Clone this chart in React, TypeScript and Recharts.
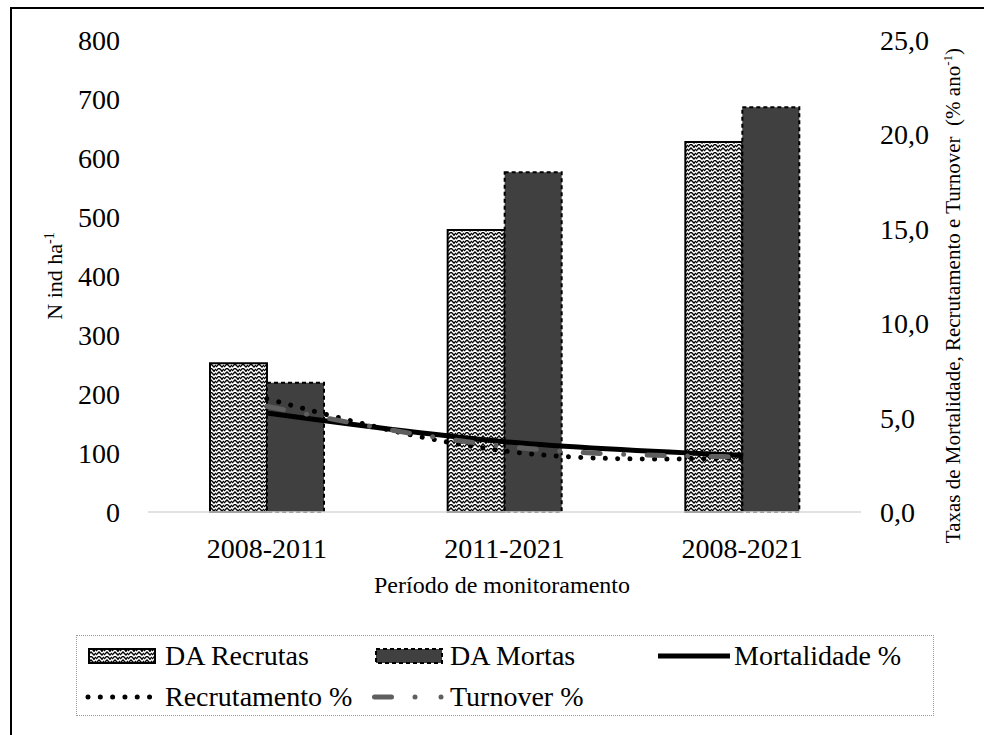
import React from "react";
import { ComposedChart, Bar, Line, XAxis, YAxis } from "recharts";

const FONT = "'Liberation Serif', 'Times New Roman', serif";

// values
const periods = ["2008-2011", "2011-2021", "2008-2021"];
const daRecrutas = [252, 478, 627];
const daMortas = [219, 576, 686];
const mortalidade = [5.24, 3.72, 3.0];
const recrutamento = [6.0, 3.23, 2.86];
const turnover = [5.6, 3.48, 2.92];

const leftTicks = [0, 100, 200, 300, 400, 500, 600, 700, 800];
const rightTicks = [0, 5, 10, 15, 20, 25];

const DOTTED = "0.01 12.3";
const DASH_DOT = "17 23.5 0.01 23.5";

const tickStyle = { fill: "#000", fontSize: 28, fontFamily: FONT };

function ZigPattern({ id }: { id: string }) {
  return (
    <pattern id={id} patternUnits="userSpaceOnUse" width={8} height={8}>
      <rect width={8} height={8} fill="#fff" />
      <path d="M0,3 L3,0 L6,3 L8,1 M0,7 L3,4 L6,7 L8,5 M6,3 L6,4" stroke="#000" strokeWidth={1.4} fill="none" />
    </pattern>
  );
}

function Swatch({ x, y, children }: { x: number; y: number; children: React.ReactNode }) {
  return (
    <div style={{ position: "absolute", left: x, top: y - 18, height: 36, display: "flex", alignItems: "center" }}>
      {children}
    </div>
  );
}

function LegendText({ x, y, text }: { x: number; y: number; text: string }) {
  return (
    <div
      style={{
        position: "absolute", left: x, top: y - 18, height: 36, lineHeight: "36px",
        whiteSpace: "nowrap", fontSize: 28, fontFamily: FONT, color: "#000",
      }}
    >
      {text}
    </div>
  );
}

export default function App() {
  const data = periods.map((p, i) => ({
    period: p,
    recrutas: daRecrutas[i],
    mortas: daMortas[i],
    mortalidade: mortalidade[i],
    recrutamento: recrutamento[i],
    turnover: turnover[i],
  }));

  return (
    <div style={{ position: "fixed", left: 0, top: 0, width: 984, height: 735, overflow: "hidden", background: "#fff" }}>
      {/* outer frame */}
      <div style={{ position: "absolute", left: 10, top: 7, width: 1100, height: 900, border: "2px solid #000" }} />

      <div style={{ position: "absolute", left: 0, top: 0 }}>
        <ComposedChart
          width={984}
          height={735}
          data={data}
          margin={{ top: 40, right: 23, bottom: 163, left: 48 }}
          barGap={0}
          barSize={57}
        >
          <defs>
            <ZigPattern id="zigFill" />
          </defs>
          <XAxis
            dataKey="period"
            interval={0}
            tickLine={false}
            axisLine={{ stroke: "#d9d9d9", strokeWidth: 1.5 }}
            tickSize={0}
            tickMargin={26}
            height={60}
            tick={tickStyle}
          />
          <YAxis
            yAxisId="left"
            domain={[0, 800]}
            ticks={leftTicks}
            axisLine={false}
            tickLine={false}
            tickSize={0}
            tickMargin={28}
            width={100}
            tick={tickStyle}
          />
          <YAxis
            yAxisId="right"
            orientation="right"
            domain={[0, 25]}
            ticks={rightTicks}
            axisLine={false}
            tickLine={false}
            tickSize={0}
            tickMargin={19}
            width={100}
            tick={tickStyle}
            tickFormatter={(v: number) => v.toFixed(1).replace(".", ",")}
          />
          <Bar yAxisId="left" dataKey="recrutas" fill="url(#zigFill)" stroke="#000" strokeWidth={2} isAnimationActive={false} />
          <Bar yAxisId="left" dataKey="mortas" fill="#404040" stroke="#000" strokeWidth={2} strokeDasharray="4 3" isAnimationActive={false} />
          <Line yAxisId="right" type="natural" dataKey="mortalidade" stroke="#000" strokeWidth={5} dot={false} activeDot={false} isAnimationActive={false} />
          <Line yAxisId="right" type="natural" dataKey="recrutamento" stroke="#000" strokeWidth={5} strokeDasharray={DOTTED} strokeLinecap="round" dot={false} activeDot={false} isAnimationActive={false} />
          <Line yAxisId="right" type="natural" dataKey="turnover" stroke="#5f5f5f" strokeWidth={5} strokeDasharray={DASH_DOT} strokeLinecap="round" dot={false} activeDot={false} isAnimationActive={false} />

          {/* axis titles */}
          <text x={62} y={276} transform="rotate(-90 62 276)" textAnchor="middle" fontSize={22} fontFamily={FONT} fill="#000">
            N ind ha<tspan dy={-8} fontSize={14}>-1</tspan>
          </text>
          <text x={960} y={48} transform="rotate(-90 960 48)" textAnchor="end" fontSize={21} fontFamily={FONT} fill="#000">
            Taxas de Mortalidade, Recrutamento e Turnover{"\u00A0 "}(% ano<tspan dy={-8} fontSize={13}>-1</tspan><tspan dy={8}>)</tspan>
          </text>
          <text x={502} y={593} textAnchor="middle" fontSize={24} fontFamily={FONT} fill="#000">
            Período de monitoramento
          </text>
        </ComposedChart>
      </div>

      {/* legend */}
      <div style={{ position: "absolute", left: 76, top: 635, width: 858, height: 81, boxSizing: "border-box", border: "1px dotted #9a9a9a" }} />
      <Swatch x={88} y={656}>
        <svg width={68} height={16}>
          <defs><ZigPattern id="zigLegend" /></defs>
          <rect x={1} y={1} width={66} height={14} fill="url(#zigLegend)" stroke="#000" strokeWidth={2} />
        </svg>
      </Swatch>
      <LegendText x={165} y={656} text="DA Recrutas" />
      <Swatch x={375} y={656}>
        <svg width={68} height={16}>
          <rect x={1} y={1} width={66} height={14} fill="#404040" stroke="#000" strokeWidth={2} strokeDasharray="4 3" />
        </svg>
      </Swatch>
      <LegendText x={450} y={656} text="DA Mortas" />
      <Swatch x={656} y={656}>
        <svg width={76} height={10}>
          <line x1={2} y1={5} x2={74} y2={5} stroke="#000" strokeWidth={5} />
        </svg>
      </Swatch>
      <LegendText x={734} y={656} text="Mortalidade %" />
      <Swatch x={84} y={697}>
        <svg width={72} height={10}>
          <line x1={4} y1={5} x2={68} y2={5} stroke="#000" strokeWidth={5} strokeDasharray={DOTTED} strokeLinecap="round" />
        </svg>
      </Swatch>
      <LegendText x={165} y={697} text="Recrutamento %" />
      <Swatch x={369} y={697}>
        <svg width={80} height={10}>
          <line x1={5.5} y1={5} x2={74} y2={5} stroke="#5f5f5f" strokeWidth={5} strokeDasharray="17 23.5 0.01 26 0.01 30" strokeLinecap="round" />
        </svg>
      </Swatch>
      <LegendText x={450} y={697} text="Turnover %" />
    </div>
  );
}
